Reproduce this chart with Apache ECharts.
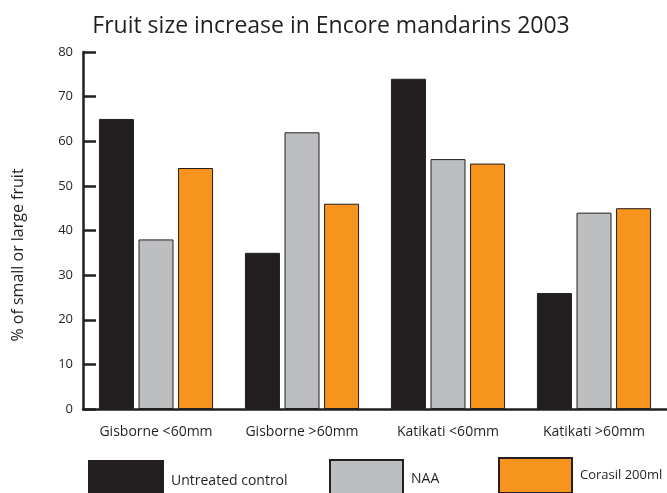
<!DOCTYPE html>
<html>
<head>
<meta charset="utf-8">
<script src="https://cdn.jsdelivr.net/npm/echarts@6/dist/echarts.min.js"></script>
<style>html,body{margin:0;padding:0;background:#fff;}#c{width:667px;height:493px;}</style>
</head>
<body>
<div id="c"></div>
<script>
var categories = ['Gisborne <60mm', 'Gisborne >60mm', 'Katikati <60mm', 'Katikati >60mm'];
var untreated = [65, 35, 74, 26];
var naa = [38, 62, 56, 44];
var corasil = [54, 46, 55, 45];
var yTicks = [0, 10, 20, 30, 40, 50, 60, 70, 80];
var seriesNames = ['Untreated control', 'NAA', 'Corasil 200ml'];

var FONT = '"Open Sans", Lato, sans-serif';
var INK = '#231f20';
var chart = echarts.init(document.getElementById('c'));

function legend(name, left, top, w, h, fs) {
  return {
    data: [name], left: left, top: top, padding: 0,
    icon: 'rect', itemWidth: w, itemHeight: h,
    textStyle: { fontFamily: FONT, fontSize: fs, color: INK, padding: [0, 0, 0, 3] },
    selectedMode: false
  };
}

chart.setOption({
  animation: false,
  backgroundColor: '#fff',
  title: {
    text: 'Fruit size increase in Encore mandarins 2003',
    left: 326, top: 10, textAlign: 'center',
    textStyle: { fontFamily: FONT, fontSize: 23, fontWeight: 'normal', color: INK }
  },
  legend: [
    legend(seriesNames[0], 88, 460, 74, 40, 14),
    legend(seriesNames[1], 329, 459, 73, 38, 14),
    legend(seriesNames[2], 498, 457, 73, 35, 13)
  ],
  grid: { left: 83, right: 0, top: 52, bottom: 84 },
  graphic: [{
    type: 'text', x: 18, y: 255, rotation: Math.PI / 2,
    style: { text: '% of small or large fruit', fontFamily: FONT, fontSize: 16, fill: INK,
             textAlign: 'center', textVerticalAlign: 'middle' }
  }],
  xAxis: {
    type: 'category', data: categories,
    axisLine: { lineStyle: { color: INK, width: 2.5 } },
    axisTick: { inside: true, length: 8, interval: 0, lineStyle: { color: INK, width: 2 } },
    axisLabel: { fontFamily: FONT, fontSize: 14, color: INK, margin: 16, interval: 0 }
  },
  yAxis: {
    type: 'value', min: yTicks[0], max: yTicks[yTicks.length - 1], interval: 10,
    axisLine: { show: true, lineStyle: { color: INK, width: 2.5 } },
    axisTick: { show: true, inside: true, length: 13, lineStyle: { color: INK, width: 2.5 } },
    splitLine: { show: false },
    axisLabel: { fontFamily: FONT, fontSize: 13, color: INK, margin: 10, padding: [6, 0, 0, 0] }
  },
  series: [
    { name: seriesNames[0], type: 'bar', data: untreated, barWidth: 35, barGap: '13%',
      itemStyle: { color: INK, borderColor: INK, borderWidth: 1 } },
    { name: seriesNames[1], type: 'bar', data: naa, barWidth: 35, barGap: '13%',
      itemStyle: { color: '#bcbec0', borderColor: INK, borderWidth: 1 } },
    { name: seriesNames[2], type: 'bar', data: corasil, barWidth: 35, barGap: '13%',
      itemStyle: { color: '#f7941d', borderColor: INK, borderWidth: 1 } }
  ]
});
</script>
</body>
</html>
